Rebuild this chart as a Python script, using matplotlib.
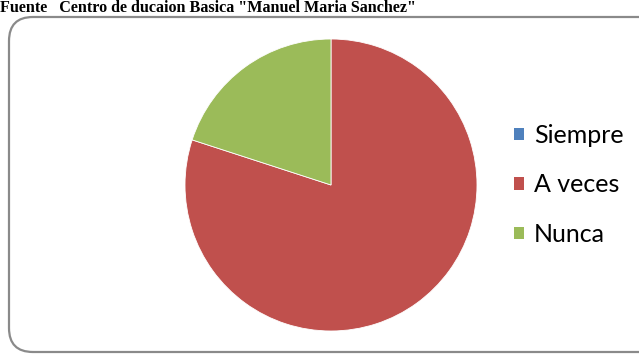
import matplotlib
matplotlib.use("Agg")
import matplotlib.pyplot as plt
from matplotlib.patches import FancyBboxPatch, Patch

categories = ["Siempre", "A veces", "Nunca"]
values = [0, 80, 20]
colors = ["#4F81BD", "#C0504D", "#9BBB59"]
source_text = 'Fuente   Centro de ducaion Basica "Manuel Maria Sanchez"'

W, H = 639, 354
fig = plt.figure(figsize=(W / 100, H / 100), dpi=100)
fig.patch.set_facecolor("white")

# Background layer in pixel units for the rounded frame and the source line
bg = fig.add_axes([0, 0, 1, 1])
bg.set_xlim(0, W)
bg.set_ylim(H, 0)
bg.axis("off")
frame = FancyBboxPatch((9, 17), 660, 335,
                       boxstyle="round,pad=0,rounding_size=24",
                       facecolor="white", edgecolor="#8a8a8a", linewidth=1.6)
bg.add_patch(frame)
bg.text(0, 0.5, source_text, ha="left", va="top", fontsize=11.6,
        family="Liberation Serif", fontweight="bold", color="black")

# Pie chart
cx, cy, r = 331, 185, 146
ax = fig.add_axes([(cx - r) / W, (H - cy - r) / H, 2 * r / W, 2 * r / H])
ax.pie(values, colors=colors, startangle=90, counterclock=False,
       radius=1.0, wedgeprops=dict(edgecolor="white", linewidth=0.6))
ax.set_xlim(-1, 1)
ax.set_ylim(-1, 1)
ax.set_aspect("equal")

handles = [Patch(facecolor=c, edgecolor="none") for c in colors]
fig.legend(handles, categories, loc="center left",
           bbox_to_anchor=(514 / W, 1 - 185 / H), frameon=False,
           prop=dict(family="Lato", size=18), handlelength=0.4,
           handleheight=0.4, handletextpad=0.4, labelspacing=1.06,
           borderpad=0, borderaxespad=0)

fig.savefig("out.png", dpi=100, facecolor="white")
